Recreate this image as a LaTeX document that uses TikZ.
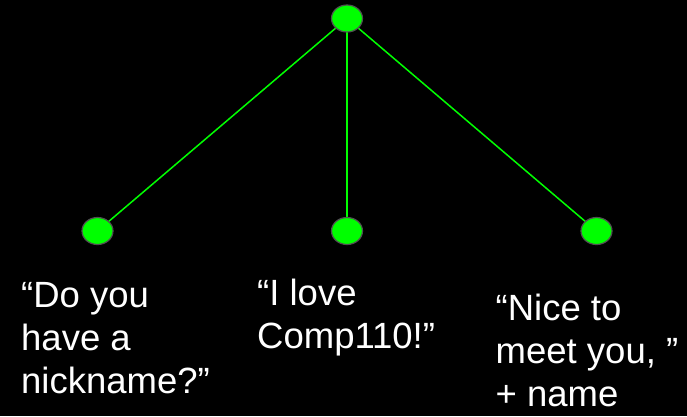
\documentclass[tikz,border=0pt]{standalone}
\usepackage{fontspec}
\setmainfont{Liberation Sans}
\definecolor{treegreen}{RGB}{0,255,0}
\definecolor{rimgray}{RGB}{80,80,80}
\usetikzlibrary{positioning,shapes.geometric}

\begin{document}
\begin{tikzpicture}[x=1pt,y=-1pt]
  \fill[black] (0,0) rectangle (687,416);
  \useasboundingbox (0,0) rectangle (687,416);
  \tikzset{treenode/.style={draw=rimgray,line width=1.2pt,fill=treegreen,
        ellipse,minimum width=31pt,minimum height=27pt,inner sep=0pt},
    replytext/.style={text=white,align=left,anchor=base west,inner sep=0pt,
        font=\fontsize{36.5}{42.8}\selectfont}}
  %% Branch lines (drawn first, behind the nodes)
  \coordinate (rootc) at (347,18.5);
  \coordinate (leftc) at (97.5,231);
  \coordinate (midc) at (347,231);
  \coordinate (rightc) at (596.5,231);
  \draw[treegreen,line width=1.5pt] (rootc)--(leftc);
  \draw[treegreen,line width=1.5pt] (rootc)--(midc);
  \draw[treegreen,line width=1.5pt] (rootc)--(rightc);
  %% Nodes
  \node[treenode] (root) at (rootc) {};
  \node[treenode] (left) at (leftc) {};
  \node[treenode] (mid) at (midc) {};
  \node[treenode] (right) at (rightc) {};
  %% Replies (anchored at the baseline of their last line)
  \node[replytext] (nick) at (21,393) {“Do you\\have a\\nickname?”};
  \node[replytext] (love) at (257,348) {“I love\\Comp110!”};
  \node[replytext] (nice) at (495.5,406.5) {“Nice to\\meet you, ”\\+ name};
\end{tikzpicture}
\end{document}
